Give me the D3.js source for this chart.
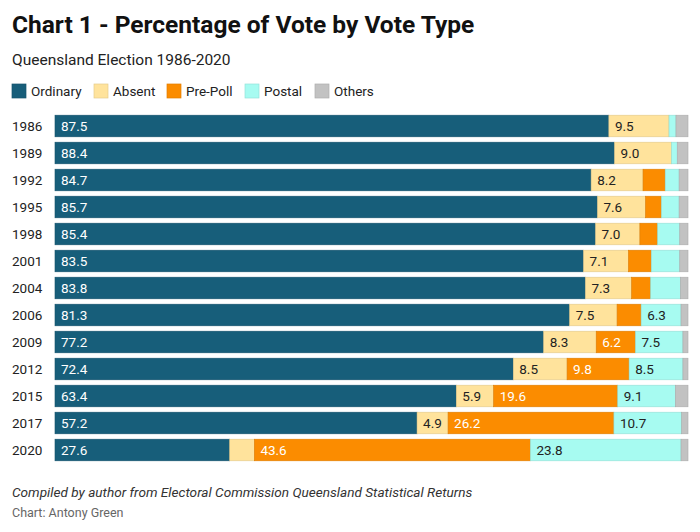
<!DOCTYPE html>
<html>
<head>
<meta charset="utf-8">
<script src="https://cdn.jsdelivr.net/npm/d3@7"></script>
<style>
  body { margin: 0; background: #fff; font-family: Roboto, sans-serif; }
</style>
</head>
<body>
<svg id="chart" width="700" height="532"></svg>
<script>
const years = ['1986', '1989', '1992', '1995', '1998', '2001', '2004', '2006', '2009', '2012', '2015', '2017', '2020'];
const voteTypes = ['Ordinary', 'Absent', 'Pre-Poll', 'Postal', 'Others'];
const ordinary = [87.5, 88.4, 84.7, 85.7, 85.4, 83.5, 83.8, 81.3, 77.2, 72.4, 63.4, 57.2, 27.6];
const absent = [9.5, 9.0, 8.2, 7.6, 7.0, 7.1, 7.3, 7.5, 8.3, 8.5, 5.9, 4.9, 3.9];
const prePoll = [0, 0, 3.5, 2.5, 2.8, 3.6, 3.0, 3.8, 6.2, 9.8, 19.6, 26.2, 43.6];
const postal = [1.1, 0.9, 2.2, 2.8, 3.5, 4.5, 4.7, 6.3, 7.5, 8.5, 9.1, 10.7, 23.8];
const others = [1.9, 1.7, 1.4, 1.4, 1.3, 1.3, 1.2, 1.1, 0.8, 0.8, 2.0, 1.0, 1.1];

const colors = ['#175e7a', '#ffe39c', '#fb8c00', '#a7fbf1', '#c2c2c2'];
const labelColors = ['#fff', '#222', '#fff', '#222', '#222'];

const rows = years.map((y, i) => ({
  year: y,
  Ordinary: ordinary[i],
  Absent: absent[i],
  'Pre-Poll': prePoll[i],
  Postal: postal[i],
  Others: others[i]
}));

const svg = d3.select('#chart');

svg.append('text')
  .attr('x', 12).attr('y', 33)
  .attr('font-size', 24.5).attr('font-weight', 'bold').attr('fill', '#111')
  .text('Chart 1 - Percentage of Vote by Vote Type');

svg.append('text')
  .attr('x', 12).attr('y', 65)
  .attr('font-size', 15.5).attr('fill', '#222')
  .text('Queensland Election 1986-2020');

// legend
const legendX = [12, 94, 167, 245, 315];
const legend = svg.append('g').attr('transform', 'translate(0, 84)');
voteTypes.forEach((t, i) => {
  legend.append('rect')
    .attr('x', legendX[i]).attr('y', 0)
    .attr('width', 14).attr('height', 14)
    .attr('fill', colors[i])
    .attr('stroke', d3.color(colors[i]).darker(0.3))
    .attr('stroke-width', 0.7);
  legend.append('text')
    .attr('x', legendX[i] + 19).attr('y', 12)
    .attr('font-size', 13.5).attr('fill', '#222')
    .text(t);
});

const x = d3.scaleLinear().domain([0, 100]).range([55, 688]);
const y = d3.scaleBand().domain(years).range([112.5, 463.5]).paddingInner(0.2).paddingOuter(0.1);

const stack = d3.stack().keys(voteTypes)(rows);

const layers = svg.append('g').selectAll('g')
  .data(stack)
  .enter()
  .append('g')
  .attr('fill', (d, i) => colors[i])
  .attr('stroke', (d, i) => d3.color(colors[i]).darker(0.35));

layers.selectAll('rect')
  .data(d => d)
  .enter()
  .append('rect')
  .attr('x', d => x(d[0]))
  .attr('y', d => y(d.data.year))
  .attr('width', d => Math.max(0, x(d[1]) - x(d[0])))
  .attr('height', y.bandwidth())
  .attr('stroke-width', d => (d[1] - d[0]) > 0 ? 0.6 : 0);

// only segments wide enough get a value label
stack.forEach((layer, i) => {
  svg.append('g').selectAll('text')
    .data(layer.filter(d => d[1] - d[0] >= 4.8))
    .enter()
    .append('text')
    .attr('x', d => x(d[0]) + 6)
    .attr('y', d => y(d.data.year) + y.bandwidth() / 2)
    .attr('dy', '0.36em')
    .attr('font-size', 13.5)
    .attr('fill', labelColors[i])
    .text(d => (d[1] - d[0]).toFixed(1));
});

svg.append('g').selectAll('text')
  .data(years)
  .enter()
  .append('text')
  .attr('x', 12)
  .attr('y', d => y(d) + y.bandwidth() / 2)
  .attr('dy', '0.36em')
  .attr('font-size', 13.5)
  .attr('fill', '#222')
  .text(d => d);

svg.append('text')
  .attr('x', 12).attr('y', 497)
  .attr('font-size', 13.6).attr('font-style', 'italic').attr('fill', '#333')
  .text('Compiled by author from Electoral Commission Queensland Statistical Returns');

svg.append('text')
  .attr('x', 12).attr('y', 517)
  .attr('font-size', 12.5).attr('fill', '#666')
  .text('Chart: Antony Green');
</script>
</body>
</html>
